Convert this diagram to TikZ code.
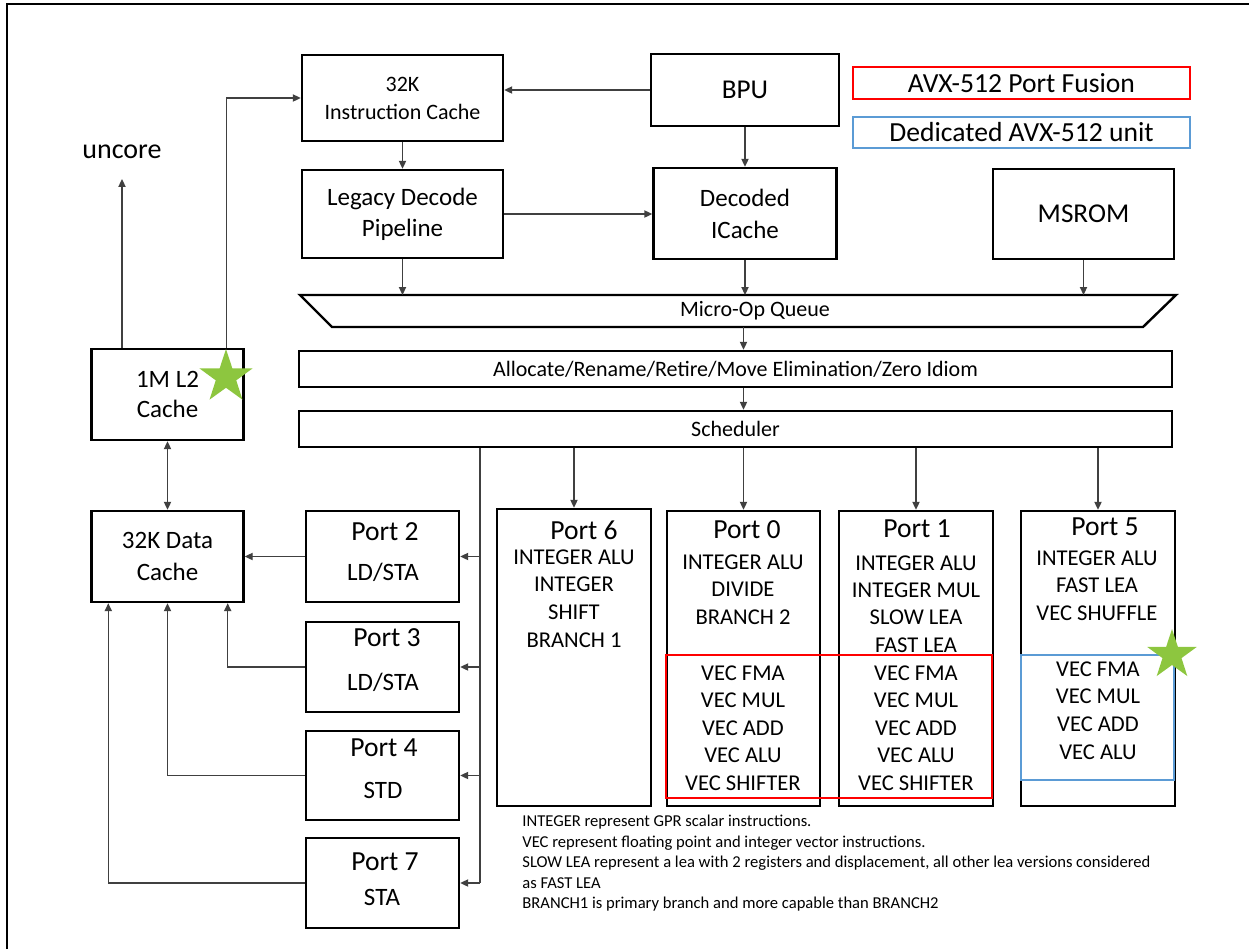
\documentclass[tikz,border=0pt]{standalone}
\usepackage{fontspec}
\setmainfont{Carlito}
\usetikzlibrary{arrows.meta}
\definecolor{avxblue}{RGB}{91,155,213}
\definecolor{stargreen}{RGB}{141,198,63}
\usetikzlibrary{shapes.geometric}

\begin{document}
\begin{tikzpicture}[x=0.5pt,y=-0.5pt,
        blk/.style={draw, line width=1.2pt, align=center, inner sep=0pt},
        conn/.style={draw=black!75, line width=0.7pt},
        arr/.style={conn, -{Triangle[length=4pt,width=3.6pt]}},
        dbl/.style={conn, {Triangle[length=4pt,width=3.6pt]}-{Triangle[length=4pt,width=3.6pt]}},
        pttl/.style={font=\fontsize{13.8}{16}\selectfont, inner sep=0pt},
        fu/.style={font=\fontsize{11.3}{13}\selectfont, inner sep=0pt},
        starry/.style={star, star points=5, star point ratio=2.6, fill=stargreen, inner sep=0pt}
    ]
    \useasboundingbox (0,0) rectangle (1249,949);
    \draw[line width=1pt] (7,949) -- (7,4) -- (1249,4);

    % front end
    \node[blk, minimum width=100.5pt, minimum height=43pt, font=\fontsize{11}{14}\selectfont] (icache) at (402.5,98) {32K\\Instruction Cache};
    \node[blk, minimum width=94pt, minimum height=36pt, font=\fontsize{13.6}{16}\selectfont] (bpu) at (745,90) {BPU};
    \node[blk, minimum width=100.5pt, minimum height=44pt, font=\fontsize{12.5}{15.5}\selectfont] (legacy) at (402.5,214) {Legacy Decode\\Pipeline};
    \node[blk, minimum width=91.5pt, minimum height=45.5pt, font=\fontsize{12.5}{16}\selectfont] (dec) at (745,213.5) {Decoded\\ICache};
    \node[blk, minimum width=90.5pt, minimum height=45pt, font=\fontsize{13.6}{16}\selectfont] (msrom) at (1083.5,214) {MSROM};
    \node[draw=red, line width=1pt, minimum width=168.5pt, minimum height=16pt, inner sep=0pt, font=\fontsize{13.8}{15}\selectfont] (fusion) at (1021.5,83) {AVX-512 Port Fusion};
    \node[draw=avxblue, line width=1pt, minimum width=168.5pt, minimum height=15.5pt, inner sep=0pt, font=\fontsize{13.8}{15}\selectfont] (dedic) at (1021.5,132.5) {Dedicated AVX-512 unit};

    % micro-op queue
    \coordinate (qtl) at (300,295);
    \coordinate (qtr) at (1176,295);
    \coordinate (qbr) at (1143,327);
    \coordinate (qbl) at (332,327);
    \draw[line width=1.2pt, line join=miter] (qtl) -- (qtr) -- (qbr) -- (qbl) -- cycle;
    \node[font=\fontsize{11}{13}\selectfont, inner sep=0pt] (queue) at (755,311) {Micro-Op Queue};
    \node[blk, minimum width=436.5pt, minimum height=18pt, font=\fontsize{11}{13}\selectfont] (alloc) at (735.5,369) {Allocate/Rename/Retire/Move Elimination/Zero Idiom};
    \node[blk, minimum width=436.5pt, minimum height=18pt, font=\fontsize{11}{13}\selectfont] (sched) at (735.5,429) {Scheduler};

    % caches
    \node[font=\fontsize{14}{16}\selectfont] (uncore) at (122,152) {uncore};
    \node[blk, minimum width=76pt, minimum height=45.5pt, font=\fontsize{12.5}{15}\selectfont] (l2) at (167.5,394.5) {1M L2\\Cache};
    \node[blk, minimum width=76pt, minimum height=45.5pt, font=\fontsize{12.5}{16}\selectfont] (dc) at (167.5,556.5) {32K Data\\Cache};

    % memory ports
    \node[blk, minimum width=76.5pt, minimum height=45.5pt] (p2) at (382.5,556.5) {};
    \node[pttl] (p2t) at (385,532) {Port 2};
    \node[fu, font=\fontsize{12.5}{15}\selectfont] (p2s) at (383,572) {LD/STA};
    \node[blk, minimum width=76.5pt, minimum height=45pt] (p3) at (382.5,667) {};
    \node[pttl] (p3t) at (387,638) {Port 3};
    \node[fu, font=\fontsize{12.5}{15}\selectfont] (p3s) at (383,682) {LD/STA};
    \node[blk, minimum width=76.5pt, minimum height=44.5pt] (p4) at (382.5,775.5) {};
    \node[pttl] (p4t) at (384,748) {Port 4};
    \node[fu, font=\fontsize{12.5}{15}\selectfont] (p4s) at (383,790) {STD};
    \node[blk, minimum width=76.5pt, minimum height=45pt] (p7) at (382.5,883) {};
    \node[pttl] (p7t) at (385,862) {Port 7};
    \node[fu, font=\fontsize{12.5}{15}\selectfont] (p7s) at (382,897) {STA};

    % execution ports
    \node[blk, minimum width=77pt, minimum height=148.5pt] (p6) at (574,657.5) {};
    \node[blk, minimum width=76.5pt, minimum height=147.5pt] (p0) at (743.5,658.5) {};
    \node[blk, minimum width=77pt, minimum height=147.5pt] (p1) at (916,658.5) {};
    \node[blk, minimum width=77pt, minimum height=147.5pt] (p5) at (1098,658.5) {};
    \node[pttl] (p6t) at (584,530) {Port 6};
    \node[pttl] (p0t) at (747,530) {Port 0};
    \node[pttl] (p1t) at (917,529) {Port 1};
    \node[pttl] (p5t) at (1105,527) {Port 5};
    \foreach \t [count=\i from 0] in {INTEGER ALU,INTEGER,SHIFT,BRANCH 1}
        \node[fu] (p6u\i) at (574,557+27.7*\i) {\t};
    \foreach \t [count=\i from 0] in {INTEGER ALU,DIVIDE,BRANCH 2}
        \node[fu] (p0u\i) at (743,562+27.5*\i) {\t};
    \foreach \t [count=\i from 0] in {INTEGER ALU,INTEGER MUL,SLOW LEA,FAST LEA}
        \node[fu] (p1u\i) at (916,563+27.3*\i) {\t};
    \foreach \t [count=\i from 0] in {INTEGER ALU,FAST LEA,VEC SHUFFLE}
        \node[fu] (p5u\i) at (1097,558+27.5*\i) {\t};
    \foreach \p/\x in {p0/743,p1/916}
        \foreach \t [count=\i from 0] in {VEC FMA,VEC MUL,VEC ADD,VEC ALU,VEC SHIFTER}
            \node[fu] (\p v\i) at (\x,673+27.5*\i) {\t};
    \foreach \t [count=\i from 0] in {VEC FMA,VEC MUL,VEC ADD,VEC ALU}
        \node[fu] (p5v\i) at (1098,669+27.7*\i) {\t};
    \node[draw=red, line width=1pt, minimum width=163pt, minimum height=71.5pt, inner sep=0pt] (fusebox) at (829,726.5) {};
    \node[draw=avxblue, line width=1pt, minimum width=76.5pt, minimum height=62.5pt, inner sep=0pt] (dedbox) at (1097.5,717.5) {};

    \node[anchor=north west, align=left, inner sep=0pt, font=\fontsize{8.3}{10.25}\selectfont] (notes) at (522,815)
        {INTEGER represent GPR scalar instructions.\\
         VEC represent floating point and integer vector instructions.\\
         SLOW LEA represent a lea with 2 registers and displacement, all other lea versions considered\\
         as FAST LEA\\
         BRANCH1 is primary branch and more capable than BRANCH2};

    % connections
    \draw[arr] (bpu.west) -- (bpu.west -| icache.east);
    \draw[arr] (icache) -- (legacy);
    \draw[arr] (legacy.east) -- (legacy.east -| dec.west);
    \draw[arr] (bpu) -- (dec);
    \draw[arr] (legacy.south) -- (legacy.south |- qtl);
    \draw[arr] (dec.south) -- (dec.south |- qtl);
    \draw[arr] (msrom.south) -- (msrom.south |- qtl);
    \draw[arr] (qbl -| p0) -- (alloc.north -| p0);
    \draw[arr] (alloc.south -| p0) -- (sched.north -| p0);
    \foreach \p in {p6,p0,p1,p5}
        \draw[arr] (sched.south -| \p.north) -- (\p.north);

    \coordinate (bus) at ([xshift=91pt]sched.south west);
    \draw[conn] (bus) -- (bus |- p7.east);
    \foreach \p in {p2,p3,p4,p7}
        \draw[arr] (bus |- \p.east) -- (\p.east);
    \draw[arr] (p2.west) -- (p2.west -| dc.east);
    \draw[arr] (p3.west) -| ([xshift=-8.5pt]dc.south east);
    \draw[arr] (p4.west) -| (dc.south);
    \draw[arr] (p7.west) -| ([xshift=9pt]dc.south west);

    \draw[dbl] (l2) -- (dc);
    \draw[arr] (uncore.south |- l2.north) -- ([yshift=-6.5pt]uncore.south);
    \draw[arr] ([xshift=-9pt]l2.north east) |- (icache.west);

    \node[starry, minimum size=28pt] (l2star) at (226,377) {};
    \node[starry, minimum size=26pt] (p5star) at (1172,655) {};
\end{tikzpicture}
\end{document}
